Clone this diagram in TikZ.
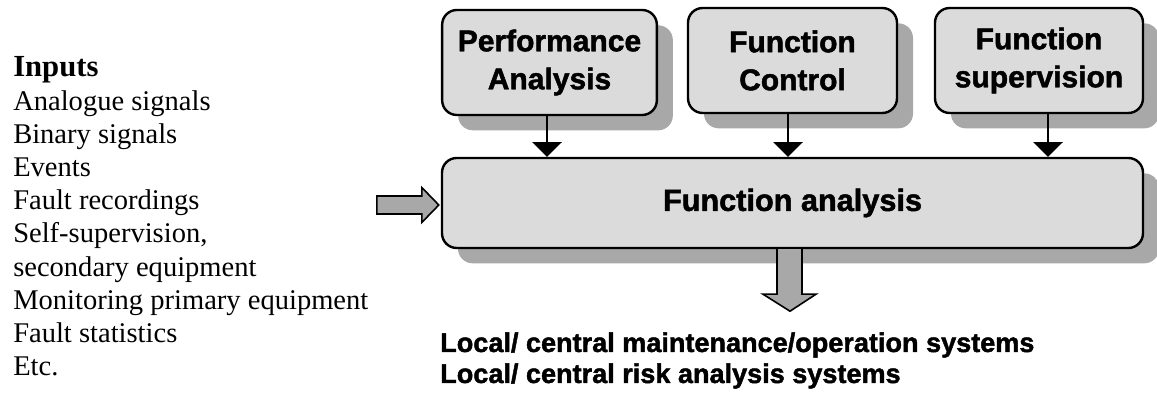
\documentclass[tikz,border=0pt]{standalone}
\usepackage{fontspec}
\setmainfont{Liberation Serif}
\newfontfamily\arialf{Liberation Sans}[BoldFeatures={FakeBold=1.6}]
\usetikzlibrary{shadows,arrows.meta,calc}
\begin{document}
\begin{tikzpicture}[x=0.75pt,y=-0.75pt,
  boxs/.style={draw=black, line width=1.8pt, rounded corners=11pt, fill=gray!28,
    drop shadow={shadow xshift=12pt, shadow yshift=-11.5pt, fill=gray!68, opacity=1},
    font=\arialf\bfseries\fontsize{22.5}{28.5}\selectfont, align=center, inner sep=0pt},
  conn/.style={line width=1.5pt, -{Triangle[width=22pt,length=11pt]}},
  blockarrow/.style={draw=black, line width=1.2pt, fill=gray!68, line join=miter},
  intext/.style={font=\fontsize{21.4}{25}\selectfont, anchor=base west, inner sep=0pt},
  outtext/.style={font=\arialf\bfseries\fontsize{20.3}{23}\selectfont, anchor=base west, inner sep=0pt}
]
\useasboundingbox (0,0) rectangle (1157,402);

% top boxes
\node[boxs, minimum width=161pt, minimum height=78.75pt] (pa) at (549.5,62.5) {Performance\\Analysis};
\node[boxs, minimum width=156.75pt, minimum height=78.75pt] (fc) at (792.5,60.5) {Function\\Control};
\node[boxs, minimum width=156pt, minimum height=78.75pt] (fs) at (1039,60.5) {Function\\supervision};

% main box
\node[boxs, minimum width=525.75pt, minimum height=67.5pt, font=\arialf\bfseries\fontsize{23}{28}\selectfont] (fa) at (792.5,203) {Function analysis};

% connectors
\coordinate (x1) at (547,0);
\coordinate (x2) at (788,0);
\coordinate (x3) at (1048,0);
\draw[conn] (pa.south -| x1) -- (fa.north -| x1);
\draw[conn] (fc.south -| x2) -- (fa.north -| x2);
\draw[conn] (fs.south -| x3) -- (fa.north -| x3);

% input block arrow
\draw[blockarrow] ($(fa.west)+(-2,2)$) -- ++(-17,-17.5) -- ++(0,8.5) -- ++(-45,0) -- ++(0,18) -- ++(45,0) -- ++(0,8.5) -- cycle;

% output block arrow
\draw[blockarrow] ($(fa.south)+(-15.5,0)$) -- ++(0,45) -- ++(-14,0) -- ++(27,17) -- ++(26,-17) -- ++(-14,0) -- ++(0,-45);

% inputs text
\node[intext, font=\bfseries\fontsize{23}{25}\selectfont] (inh) at (13,77) {Inputs};
\foreach \t [count=\i] in {Analogue signals, Binary signals, Events, Fault recordings, {Self-supervision,}, secondary equipment, Monitoring primary equipment, Fault statistics, Etc.}
  \node[intext] (in\i) at (13,{77+33.2*\i}) {\t};

% outputs text
\node[outtext] (out1) at (440,352) {Local/ central maintenance/operation systems};
\node[outtext] (out2) at (440,383) {Local/ central risk analysis systems};
\end{tikzpicture}
\end{document}
